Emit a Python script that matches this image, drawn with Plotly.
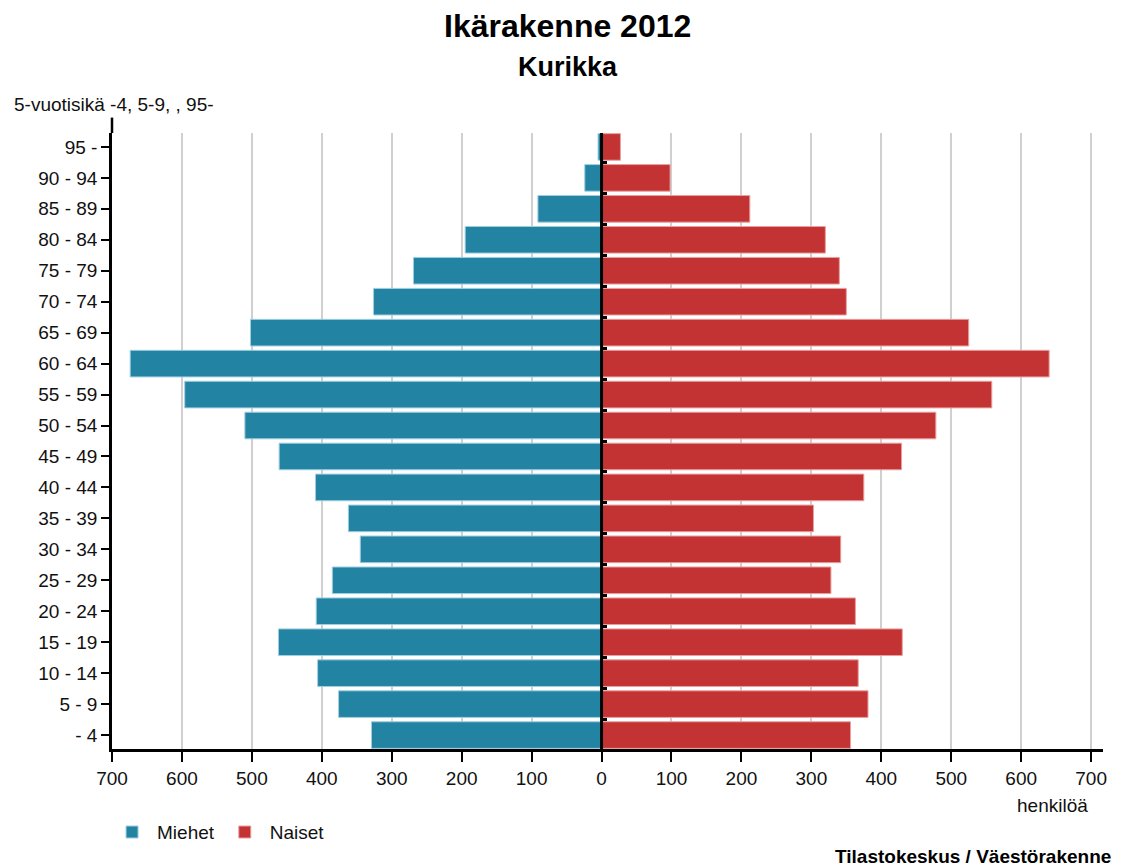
import plotly.graph_objects as go

# 5-year age groups, youngest first (bottom of the pyramid)
ages = ['- 4', '5 - 9', '10 - 14', '15 - 19', '20 - 24', '25 - 29', '30 - 34',
        '35 - 39', '40 - 44', '45 - 49', '50 - 54', '55 - 59', '60 - 64',
        '65 - 69', '70 - 74', '75 - 79', '80 - 84', '85 - 89', '90 - 94', '95 -']

miehet = [329, 376, 406, 462, 408, 385, 345, 362, 409, 461, 510, 596, 674,
          502, 326, 269, 195, 91, 24, 5]
naiset = [356, 381, 367, 430, 363, 328, 342, 303, 375, 429, 478, 558, 640,
          525, 350, 340, 320, 212, 98, 27]

tick_vals = [-700, -600, -500, -400, -300, -200, -100, 0, 100, 200, 300, 400, 500, 600, 700]
tick_text = [str(abs(v)) for v in tick_vals]

BLUE = '#2383a3'
RED = '#c43333'
FONT = 'Liberation Sans, Arial, sans-serif'

x_lo, x_hi = -700, 717

fig = go.Figure()
fig.add_trace(go.Bar(
    y=ages, x=[-v for v in miehet], orientation='h', name='Miehet',
    marker=dict(color=BLUE, line=dict(color='#9fcfe0', width=1)),
    customdata=miehet, hovertemplate='%{y}: %{customdata}<extra>Miehet</extra>'))
fig.add_trace(go.Bar(
    y=ages, x=naiset, orientation='h', name='Naiset',
    marker=dict(color=RED, line=dict(color='#e8a0a0', width=1)),
    hovertemplate='%{y}: %{x}<extra>Naiset</extra>'))
# invisible trace so the small ticks along the zero line get drawn
fig.add_trace(go.Scatter(
    y=ages, x=[0] * len(ages), yaxis='y2', mode='markers',
    marker=dict(opacity=0), showlegend=False, hoverinfo='skip'))

# page body has an 8px margin, so the figure is sized 8px smaller
fig.update_layout(
    width=1117, height=858,
    paper_bgcolor='white', plot_bgcolor='white',
    font=dict(family=FONT, size=19, color='#111'),
    barmode='overlay', bargap=0.14,
    margin=dict(l=104, r=22, t=125, b=117),
    xaxis=dict(range=[x_lo, x_hi], tickvals=tick_vals, ticktext=tick_text,
               showgrid=True, gridcolor='#d0d0d0', gridwidth=1.5,
               zeroline=False, showline=True, linecolor='black', linewidth=2.5,
               ticks='outside', ticklen=10, tickwidth=1.5, tickcolor='black',
               tickfont=dict(size=19)),
    yaxis=dict(categoryorder='array', categoryarray=ages,
               range=[-0.45, len(ages) - 1 + 0.45],
               showgrid=False, zeroline=False, showline=True,
               linecolor='black', linewidth=2.5,
               ticks='outside', ticklen=8, tickwidth=1.5, tickcolor='black',
               tickfont=dict(size=19)),
    yaxis2=dict(overlaying='y', anchor='free', side='right',
                position=(0 - x_lo) / (x_hi - x_lo),
                categoryorder='array', categoryarray=ages,
                range=[-0.45, len(ages) - 1 + 0.45],
                showgrid=False, zeroline=False, showline=False,
                ticks='outside', tickson='boundaries', ticklen=4,
                tickwidth=3, tickcolor='black', showticklabels=False),
    legend=dict(orientation='h', x=-0.005, xanchor='left', y=-0.135,
                yanchor='middle', font=dict(size=19), itemwidth=40,
                traceorder='normal'),
    shapes=[
        # zero line on top of the bars
        dict(type='line', xref='x', yref='paper', x0=0, x1=0, y0=0, y1=1,
             line=dict(color='black', width=3), layer='above'),
        # y axis line extends a bit above the grid
        dict(type='line', xref='paper', yref='paper', x0=0, x1=0, y0=1, y1=1.025,
             line=dict(color='black', width=2.5)),
    ],
    annotations=[
        dict(text='<b>Ikärakenne 2012</b>', xref='paper', yref='paper',
             x=0.460, y=1.1737, xanchor='center', yanchor='middle',
             showarrow=False, font=dict(size=32, color='black')),
        dict(text='<b>Kurikka</b>', xref='paper', yref='paper',
             x=0.460, y=1.107, xanchor='center', yanchor='middle',
             showarrow=False, font=dict(size=27, color='black')),
        dict(text='5-vuotisikä -4, 5-9, , 95-', xref='paper', yref='paper',
             x=-0.101, y=1.047, xanchor='left', yanchor='middle',
             showarrow=False, font=dict(size=19, color='#111')),
        dict(text='henkilöä', xref='paper', yref='paper',
             x=0.987, y=-0.0925, xanchor='right', yanchor='middle',
             showarrow=False, font=dict(size=19, color='#111')),
        dict(text='<b>Tilastokeskus / Väestörakenne</b>', xref='paper', yref='paper',
             x=1.010, y=-0.175, xanchor='right', yanchor='middle',
             showarrow=False, font=dict(size=19, color='black')),
    ],
)

fig.write_html('out.html')
